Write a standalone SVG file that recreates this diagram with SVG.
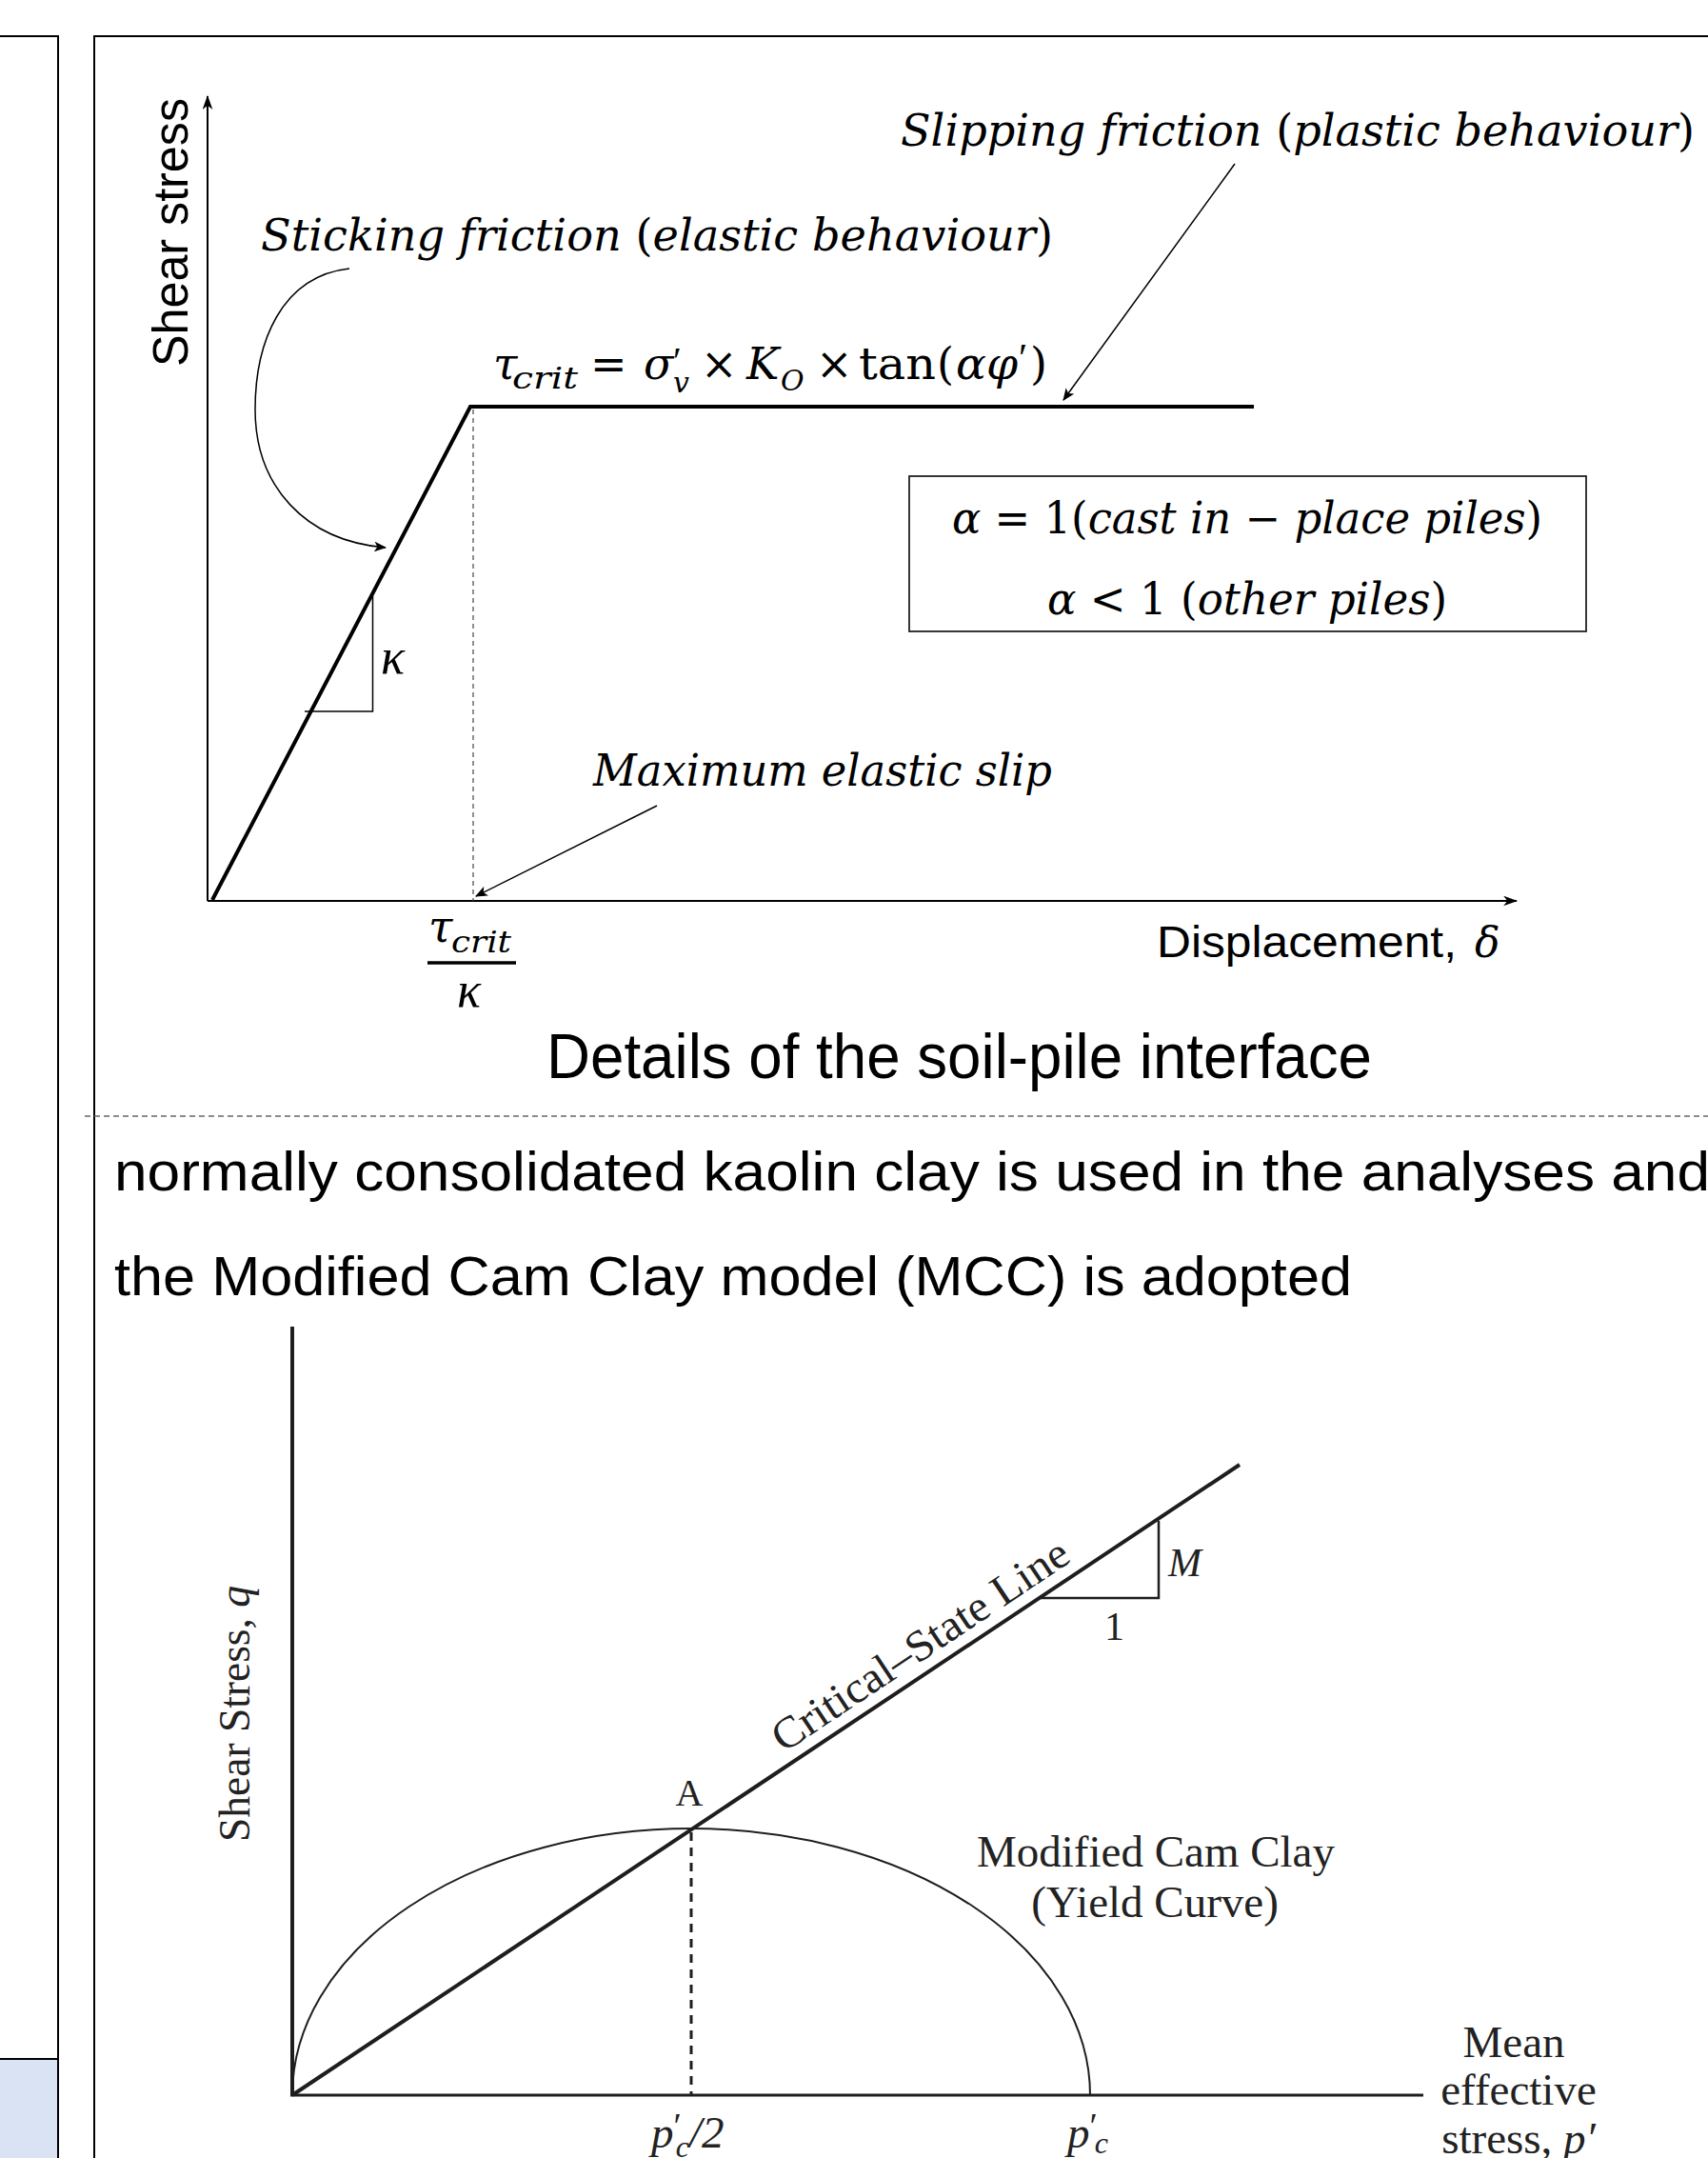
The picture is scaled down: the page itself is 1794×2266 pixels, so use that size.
<svg xmlns="http://www.w3.org/2000/svg" width="1794" height="2266" viewBox="0 0 1794 2266">
<style>
.frame{fill:none;stroke:#000;stroke-width:2}
.math{font-family:"DejaVu Serif",serif;font-style:italic;fill:#000}
.kap{font-family:"Liberation Serif","Times New Roman",serif;font-style:italic;fill:#000}
.prm{font-family:"Liberation Serif","Times New Roman",serif;font-style:normal;fill:#000}
.up{font-style:normal}
.it{font-style:italic}
.sans{font-family:"Liberation Sans",Arial,sans-serif;fill:#000}
.ser{font-family:"Liberation Serif","Times New Roman",serif;fill:#222}
.ax{fill:none;stroke:#000;stroke-width:2}
.thin{fill:none;stroke:#000;stroke-width:1.5}
.dash{fill:none;stroke:#444;stroke-width:1.2;stroke-dasharray:5 4}
.mcc{fill:none;stroke:#1e1e1e}
</style>
<defs>
<marker id="ah" viewBox="0 0 12 10" refX="11" refY="5" markerWidth="13" markerHeight="11" markerUnits="userSpaceOnUse" orient="auto">
<path d="M0,0 L12,5 L0,10 L3,5 z" fill="#000"/>
</marker>
<marker id="axh" viewBox="0 0 14 10" refX="13" refY="5" markerWidth="15" markerHeight="11" markerUnits="userSpaceOnUse" orient="auto">
<path d="M0,0 L14,5 L0,10 L4,5 z" fill="#000"/>
</marker>
</defs>
<rect width="1794" height="2266" fill="#fff"/>

<g id="left-panel">
<rect x="0" y="2162" width="61" height="110" fill="#dae3f3"/>
<path class="frame" d="M0,38 H61 V2266 M0,2162 H61"/>
</g>

<g id="main-panel">
<path class="frame" d="M1794,38 H99 V2266"/>
<line x1="89" y1="1172" x2="1794" y2="1172" stroke="#666" stroke-width="1.5" stroke-dasharray="6 4"/>
</g>

<g id="interface-plot">
<g id="axes">
<line class="ax" x1="218" y1="946" x2="218" y2="101" marker-end="url(#axh)"/>
<line class="ax" x1="218" y1="946" x2="1593" y2="946" marker-end="url(#axh)"/>
<text class="sans" font-size="52" transform="translate(197,385) rotate(-90)" textLength="282" lengthAdjust="spacingAndGlyphs">Shear stress</text>
<text class="sans" x="1215" y="1005" font-size="46" textLength="315" lengthAdjust="spacingAndGlyphs">Displacement,</text>
<text class="math" x="1549" y="1005" font-size="44">δ</text>
</g>
<g id="friction-curve">
<path d="M223,945 L494,427 L1317,427" fill="none" stroke="#000" stroke-width="4" stroke-linejoin="miter"/>
<line class="dash" x1="497" y1="430" x2="497" y2="946"/>
<path class="thin" d="M320,747 H391.5 V626"/>
<text class="kap" x="400" y="707" font-size="52">κ</text>
</g>
<g id="formula">
<text class="math" x="518" y="398" font-size="46">τ</text>
<text class="math" x="538" y="408" font-size="32" textLength="69" lengthAdjust="spacingAndGlyphs">crit</text>
<text class="math up" x="620" y="398" font-size="46">=</text>
<text class="math" x="676" y="398" font-size="46">σ</text>
<text class="prm" x="707" y="392" font-size="40">′</text>
<text class="math" x="707" y="412" font-size="30">v</text>
<text class="math up" x="736" y="398" font-size="46">×</text>
<text class="math" x="784" y="398" font-size="46">K</text>
<text class="math" x="820" y="410" font-size="30">O</text>
<text class="math up" x="857" y="398" font-size="46">×</text>
<text class="math up" x="902" y="398" font-size="46" textLength="81" lengthAdjust="spacingAndGlyphs">tan</text>
<text class="math up" x="984" y="398" font-size="46">(</text>
<text class="math" x="1004" y="398" font-size="46" textLength="65" lengthAdjust="spacingAndGlyphs">αφ</text>
<text class="prm" x="1070" y="390" font-size="42">′</text>
<text class="math up" x="1082" y="398" font-size="46">)</text>
</g>
<g id="fraction">
<text class="math" x="450" y="989" font-size="46">τ</text>
<text class="math" x="474" y="1000" font-size="32" textLength="63" lengthAdjust="spacingAndGlyphs">crit</text>
<line x1="449" y1="1011" x2="542" y2="1011" stroke="#000" stroke-width="3.5"/>
<text class="kap" x="480" y="1057" font-size="52">κ</text>
</g>
<g id="label-sticking">
<text class="math" x="274" y="263" font-size="46" textLength="832" lengthAdjust="spacingAndGlyphs">Sticking friction <tspan class="up">(</tspan>elastic behaviour<tspan class="up">)</tspan></text>
</g>
<g id="label-slipping">
<text class="math" x="946" y="153" font-size="46" textLength="834" lengthAdjust="spacingAndGlyphs">Slipping friction <tspan class="up">(</tspan>plastic behaviour<tspan class="up">)</tspan></text>
</g>
<g id="label-max-slip">
<text class="math" x="623" y="825" font-size="46" textLength="482" lengthAdjust="spacingAndGlyphs">Maximum elastic slip</text>
</g>
<g id="alpha-box">
<rect x="955" y="500" width="711" height="163" fill="#fff" stroke="#222" stroke-width="1.8"/>
<text class="math" x="1000" y="560" font-size="46" textLength="620" lengthAdjust="spacingAndGlyphs">α<tspan class="up"> = 1(</tspan>cast in<tspan class="up"> − </tspan>place piles<tspan class="up">)</tspan></text>
<text class="math" x="1100" y="645" font-size="46" textLength="420" lengthAdjust="spacingAndGlyphs">α<tspan class="up"> &lt; 1 (</tspan>other piles<tspan class="up">)</tspan></text>
</g>
<text class="sans" x="574" y="1132" font-size="66" textLength="867" lengthAdjust="spacingAndGlyphs">Details of the soil-pile interface</text>
</g>

<g id="connectors">
<path class="thin" d="M367,282 C295,290 268,360 268,430 C268,510 320,568 405,575" marker-end="url(#ah)"/>
<line class="thin" x1="1297" y1="172" x2="1117" y2="420" marker-end="url(#ah)"/>
<line class="thin" x1="690" y1="846" x2="500" y2="941" marker-end="url(#ah)"/>
</g>

<g id="paragraph">
<text class="sans" x="120" y="1250" font-size="58" textLength="1676" lengthAdjust="spacingAndGlyphs">normally consolidated kaolin clay is used in the analyses and</text>
<text class="sans" x="120" y="1360" font-size="58" textLength="1300" lengthAdjust="spacingAndGlyphs">the Modified Cam Clay model (MCC) is adopted</text>
</g>

<g id="mcc-plot">
<g id="mcc-axes">
<line class="mcc" x1="307" y1="1393" x2="307" y2="2201" stroke-width="4"/>
<line class="mcc" x1="305" y1="2200" x2="1495" y2="2200" stroke-width="3"/>
<text class="ser" font-size="46" transform="translate(262,1934) rotate(-90)" textLength="269" lengthAdjust="spacingAndGlyphs">Shear Stress, <tspan class="it">q</tspan></text>
<text class="ser" font-size="47" text-anchor="middle"><tspan x="1590" y="2160">Mean</tspan><tspan x="1595" y="2210">effective</tspan><tspan x="1595" y="2261">stress, <tspan class="it">p′</tspan></tspan></text>
<text class="ser it" x="684" y="2255" font-size="47">p<tspan class="up" font-size="38" dy="-10">′</tspan><tspan font-size="32" dx="-6" dy="20">c</tspan><tspan font-size="47" dy="-10">/2</tspan></text>
<text class="ser it" x="1121" y="2255" font-size="47">p<tspan class="up" font-size="38" dy="-10">′</tspan><tspan font-size="32" dx="-3" dy="16">c</tspan></text>
</g>
<g id="critical-state-line">
<line class="mcc" x1="307" y1="2200" x2="1302" y2="1538" stroke-width="4"/>
<path class="mcc" d="M1092,1678 H1217 V1597" stroke-width="2.5"/>
<text class="ser it" x="1227" y="1655" font-size="42">M</text>
<text class="ser" x="1160" y="1722" font-size="42">1</text>
<text class="ser" font-size="46" transform="translate(823,1841) rotate(-33.65)" textLength="365" lengthAdjust="spacingAndGlyphs">Critical–State Line</text>
</g>
<g id="yield-curve">
<path class="mcc" d="M307,2200 A419,280 0 0 1 1145,2200" stroke-width="2"/>
<line class="mcc" x1="726" y1="1924" x2="726" y2="2200" stroke-width="3" stroke-dasharray="9 7"/>
<text class="ser" x="724" y="1896" font-size="40" text-anchor="middle">A</text>
<text class="ser" font-size="47" text-anchor="middle"><tspan x="1214" y="1960">Modified Cam Clay</tspan><tspan x="1213" y="2013">(Yield Curve)</tspan></text>
</g>
</g>
</svg>
